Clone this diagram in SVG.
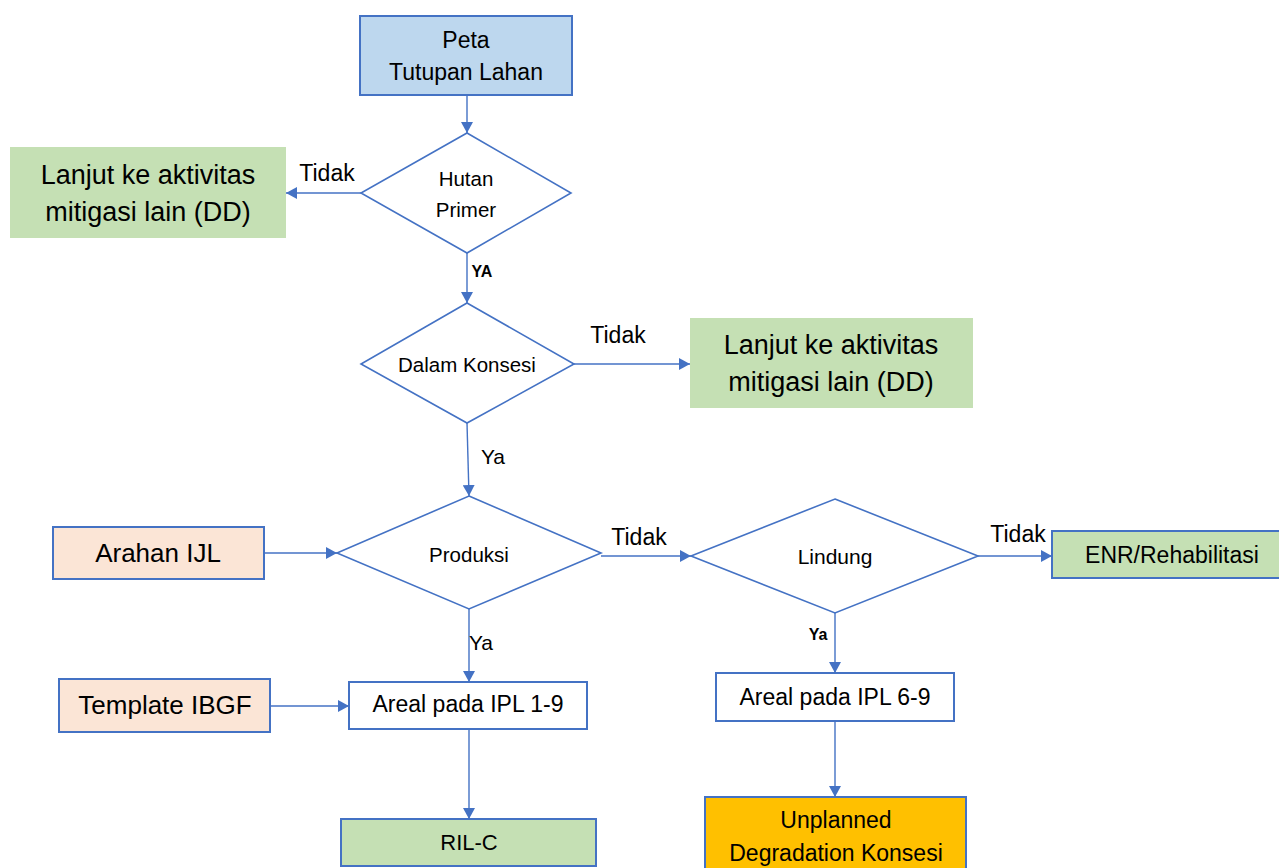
<svg xmlns="http://www.w3.org/2000/svg" width="1279" height="868" viewBox="0 0 1279 868">
<defs>
<marker id="ah" markerWidth="11" markerHeight="12" refX="11" refY="6" orient="auto" markerUnits="userSpaceOnUse">
<path d="M0,0 L11,6 L0,12 Z" fill="#4472C4"/>
</marker>
<style>
text{font-family:"Liberation Sans",Arial,sans-serif;fill:#000;text-anchor:middle}
.box{stroke:#4472C4;stroke-width:2}
.dia{fill:#fff;stroke:#4472C4;stroke-width:1.6}
.blue{fill:#BDD7EE}
.peach{fill:#FBE5D6}
.green{fill:#C5E0B4}
.white{fill:#fff}
.orange{fill:#FFC000}
.con line{stroke:#4472C4;stroke-width:1.4;marker-end:url(#ah)}
.lbl{font-size:23px}
.b{font-weight:bold}
</style>
</defs>
<rect width="1279" height="868" fill="#fff"/>

<g id="peta">
<rect class="box blue" x="360" y="16" width="212" height="79"/>
<text x="466" y="48" font-size="23">Peta</text>
<text x="466" y="80" font-size="23">Tutupan Lahan</text>
</g>

<g id="hutan">
<polygon class="dia" points="467,133 571,193 467,253 361,193"/>
<text x="466" y="186" font-size="20.5">Hutan</text>
<text x="466" y="217" font-size="20.5">Primer</text>
</g>

<g id="dd1">
<rect class="green" x="10" y="147" width="276" height="91"/>
<text x="148" y="184" font-size="27">Lanjut ke aktivitas</text>
<text x="148" y="221" font-size="27">mitigasi lain (DD)</text>
</g>

<g id="konsesi">
<polygon class="dia" points="467,303 574,364 467,423 361,364"/>
<text x="467" y="372" font-size="20.5">Dalam Konsesi</text>
</g>

<g id="dd2">
<rect class="green" x="690" y="318" width="283" height="90"/>
<text x="831" y="354" font-size="27">Lanjut ke aktivitas</text>
<text x="831" y="391" font-size="27">mitigasi lain (DD)</text>
</g>

<g id="arahan">
<rect class="box peach" x="53" y="527" width="211" height="52"/>
<text x="158" y="562" font-size="26">Arahan IJL</text>
</g>

<g id="produksi">
<polygon class="dia" points="469,496 601,553 469,609 337,553"/>
<text x="469" y="562" font-size="20.5">Produksi</text>
</g>

<g id="lindung">
<polygon class="dia" points="835,499 978,556 835,613 691,556"/>
<text x="835" y="564" font-size="21">Lindung</text>
</g>

<g id="enr">
<rect class="box green" x="1052" y="531" width="240" height="47"/>
<text x="1172" y="563" font-size="23">ENR/Rehabilitasi</text>
</g>

<g id="template">
<rect class="box peach" x="59" y="679" width="211" height="53"/>
<text x="165" y="714" font-size="26">Template IBGF</text>
</g>

<g id="ipl19">
<rect class="box white" x="349" y="682" width="238" height="47"/>
<text x="468" y="712" font-size="23">Areal pada IPL 1-9</text>
</g>

<g id="ipl69">
<rect class="box white" x="716" y="673" width="238" height="48"/>
<text x="835" y="705" font-size="23">Areal pada IPL 6-9</text>
</g>

<g id="rilc">
<rect class="box green" x="341" y="819" width="255" height="47"/>
<text x="469" y="850" font-size="22">RIL-C</text>
</g>

<g id="unplanned">
<rect class="box orange" x="705" y="797" width="261" height="90"/>
<text x="836" y="828" font-size="23">Unplanned</text>
<text x="836" y="861" font-size="23">Degradation Konsesi</text>
</g>

<g id="connectors" class="con">
<line x1="467" y1="96" x2="467" y2="133"/>
<line x1="361" y1="193" x2="286" y2="193"/>
<line x1="467" y1="253" x2="467" y2="303"/>
<line x1="574" y1="364" x2="690" y2="364"/>
<line x1="467" y1="423" x2="469" y2="496"/>
<line x1="264" y1="553" x2="337" y2="553"/>
<line x1="601" y1="556" x2="691" y2="556"/>
<line x1="978" y1="556" x2="1052" y2="556"/>
<line x1="835" y1="613" x2="835" y2="673"/>
<line x1="835" y1="721" x2="835" y2="797"/>
<line x1="469" y1="609" x2="469" y2="682"/>
<line x1="270" y1="706" x2="349" y2="706"/>
<line x1="469" y1="729" x2="469" y2="819"/>
</g>

<g id="labels">
<text x="327" y="181" class="lbl">Tidak</text>
<text x="482" y="277" font-size="16" class="b">YA</text>
<text x="618" y="343" class="lbl">Tidak</text>
<text x="493" y="464" font-size="21">Ya</text>
<text x="639" y="545" class="lbl">Tidak</text>
<text x="1018" y="542" class="lbl">Tidak</text>
<text x="481" y="650" font-size="21">Ya</text>
<text x="818" y="640" font-size="16" class="b">Ya</text>
</g>
</svg>
